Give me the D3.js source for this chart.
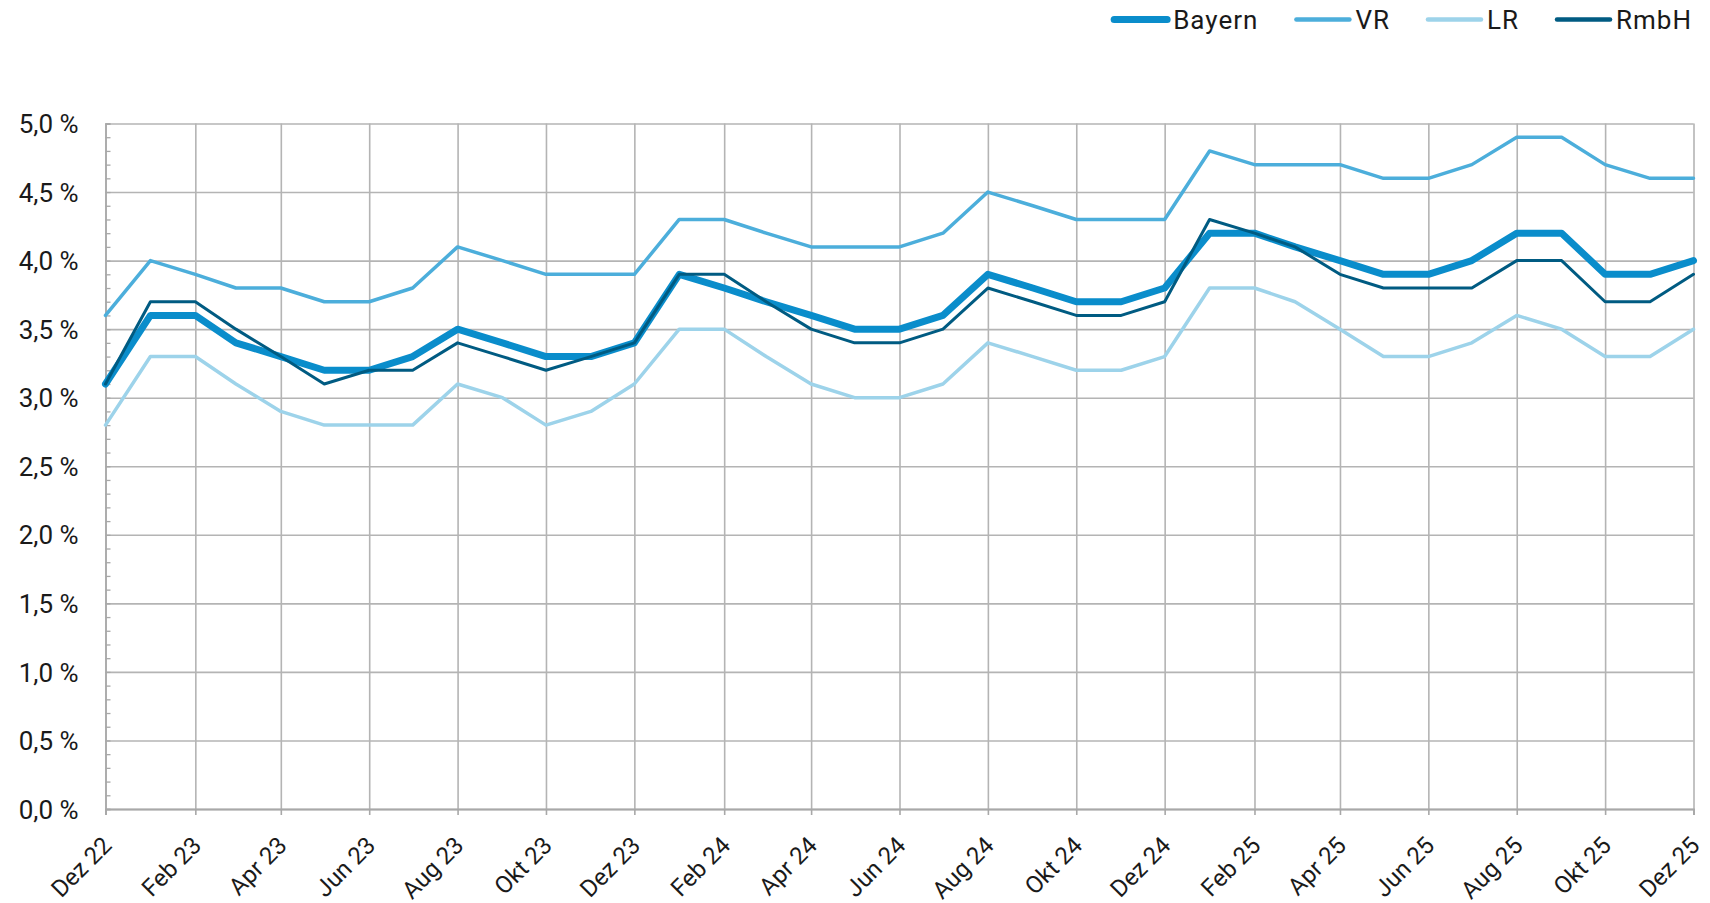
<!DOCTYPE html>
<html>
<head>
<meta charset="utf-8">
<script src="https://cdn.jsdelivr.net/npm/d3@7"></script>
<style>
  html, body { margin: 0; padding: 0; background: #fff; }
  svg { display: block; }
  text { font-family: Roboto, "Liberation Sans", sans-serif; fill: #1a1a1a; }
</style>
</head>
<body>
<svg id="chart" width="1710" height="903"></svg>
<script>
// ---- data ----
const months = [
  "2022-12","2023-01","2023-02","2023-03","2023-04","2023-05","2023-06","2023-07","2023-08","2023-09","2023-10","2023-11",
  "2023-12","2024-01","2024-02","2024-03","2024-04","2024-05","2024-06","2024-07","2024-08","2024-09","2024-10","2024-11",
  "2024-12","2025-01","2025-02","2025-03","2025-04","2025-05","2025-06","2025-07","2025-08","2025-09","2025-10","2025-11",
  "2025-12"
];
const bayern = [3.1,3.6,3.6,3.4,3.3,3.2,3.2,3.3,3.5,3.4,3.3,3.3, 3.4,3.9,3.8,3.7,3.6,3.5,3.5,3.6,3.9,3.8,3.7,3.7, 3.8,4.2,4.2,4.1,4.0,3.9,3.9,4.0,4.2,4.2,3.9,3.9, 4.0];
const vr     = [3.6,4.0,3.9,3.8,3.8,3.7,3.7,3.8,4.1,4.0,3.9,3.9, 3.9,4.3,4.3,4.2,4.1,4.1,4.1,4.2,4.5,4.4,4.3,4.3, 4.3,4.8,4.7,4.7,4.7,4.6,4.6,4.7,4.9,4.9,4.7,4.6, 4.6];
const lr     = [2.8,3.3,3.3,3.1,2.9,2.8,2.8,2.8,3.1,3.0,2.8,2.9, 3.1,3.5,3.5,3.3,3.1,3.0,3.0,3.1,3.4,3.3,3.2,3.2, 3.3,3.8,3.8,3.7,3.5,3.3,3.3,3.4,3.6,3.5,3.3,3.3, 3.5];
const rmbh   = [3.1,3.7,3.7,3.5,3.3,3.1,3.2,3.2,3.4,3.3,3.2,3.3, 3.4,3.9,3.9,3.7,3.5,3.4,3.4,3.5,3.8,3.7,3.6,3.6, 3.7,4.3,4.2,4.1,3.9,3.8,3.8,3.8,4.0,4.0,3.7,3.7, 3.9];
const seriesNames = ["Bayern","VR","LR","RmbH"];
const tickLabels = ["Dez 22","Feb 23","Apr 23","Jun 23","Aug 23","Okt 23","Dez 23","Feb 24","Apr 24","Jun 24","Aug 24","Okt 24","Dez 24","Feb 25","Apr 25","Jun 25","Aug 25","Okt 25","Dez 25"];
const yTicks = [0,0.5,1,1.5,2,2.5,3,3.5,4,4.5,5];

// ---- styles ----
const colors = {Bayern:"#0a8dcb", VR:"#4caedb", LR:"#9dd3ea", RmbH:"#005b82"};
const widths = {Bayern:7, VR:3.5, LR:3.5, RmbH:3};
const gridColor = "#b4b4b4";

const svg = d3.select("#chart");
const parse = d3.timeParse("%Y-%m");
const dates = months.map(parse);
const L = 105.5, R = 1693.5, T = 123.5, B = 809;

const x = d3.scaleTime().domain([dates[0], dates[dates.length-1]]).range([L, R]);
const y = d3.scaleLinear().domain([0, 5]).range([B, T]);

const tickDates = dates.filter((d, i) => i % 2 === 0);

// vertical gridlines
svg.append("g")
  .attr("transform", `translate(0,${B})`)
  .call(d3.axisBottom(x).tickValues(tickDates).tickSize(-(B - T)).tickFormat(""))
  .call(g => g.select(".domain").remove())
  .call(g => g.selectAll("line").attr("stroke", gridColor).attr("stroke-width", 1.6));

// horizontal gridlines
svg.append("g")
  .attr("transform", `translate(${L},0)`)
  .call(d3.axisRight(y).tickValues(yTicks).tickSize(R - L).tickFormat(""))
  .call(g => g.select(".domain").remove())
  .call(g => g.selectAll("line").attr("stroke", gridColor).attr("stroke-width", 1.6));

// minor ticks on y axis (inside)
const minor = d3.range(0, 51).map(v => v / 10);
svg.append("g")
  .attr("transform", `translate(${L},0)`)
  .call(d3.axisRight(y).tickValues(minor).tickSize(5).tickFormat(""))
  .call(g => g.select(".domain").attr("stroke", "#a8a8a8").attr("stroke-width", 1.6))
  .call(g => g.selectAll("line").attr("stroke", "#a8a8a8").attr("stroke-width", 1.3));

// y labels
svg.append("g")
  .attr("transform", `translate(${L},0)`)
  .call(d3.axisLeft(y).tickValues(yTicks).tickSize(0).tickPadding(27)
        .tickFormat(d => d3.format(".1f")(d).replace(".", ",") + " %"))
  .call(g => g.select(".domain").remove())
  .call(g => g.selectAll("text").style("font-size", "26px").attr("fill", "#1a1a1a").attr("dy", "0.35em"));

// x axis
const xAxisG = svg.append("g")
  .attr("transform", `translate(0,${B})`)
  .call(d3.axisBottom(x).tickValues(tickDates).tickSize(6).tickFormat((d, i) => tickLabels[i]))
  .call(g => g.select(".domain").attr("stroke", "#a8a8a8").attr("stroke-width", 1.8))
  .call(g => g.selectAll("line").attr("stroke", "#a8a8a8").attr("stroke-width", 1.6));
xAxisG.selectAll("text")
  .style("font-size", "24px")
  .attr("fill", "#1a1a1a")
  .attr("text-anchor", "end")
  .attr("x", 0).attr("y", 0).attr("dy", 0)
  .attr("transform", "translate(7,38) rotate(-45)");

// lines
const seriesData = {Bayern: bayern, VR: vr, LR: lr, RmbH: rmbh};
const line = d3.line().x((d, i) => x(dates[i])).y(d => y(d));
seriesNames.forEach(name => {
  svg.append("path")
    .datum(seriesData[name])
    .attr("d", line)
    .attr("fill", "none")
    .attr("stroke", colors[name])
    .attr("stroke-width", widths[name])
    .attr("stroke-linejoin", "round")
    .attr("stroke-linecap", "round");
});

// legend (laid out from the right edge)
const leg = svg.append("g");
const items = seriesNames.map(name => {
  const g = leg.append("g");
  g.append("line")
    .attr("x1", 2).attr("x2", 55)
    .attr("y1", 19.5).attr("y2", 19.5)
    .attr("stroke", colors[name])
    .attr("stroke-width", widths[name] === 7 ? 7 : 4.5)
    .attr("stroke-linecap", "round");
  const t = g.append("text")
    .attr("x", 61).attr("y", 19.5).attr("dy", "0.35em")
    .style("font-size", "26px")
    .style("letter-spacing", "1px")
    .text(name);
  return {g, w: 61 + t.node().getComputedTextLength()};
});
let cx = 1692;
for (let i = items.length - 1; i >= 0; i--) {
  cx -= items[i].w;
  items[i].g.attr("transform", `translate(${cx},0)`);
  cx -= 36;
}
</script>
</body>
</html>
